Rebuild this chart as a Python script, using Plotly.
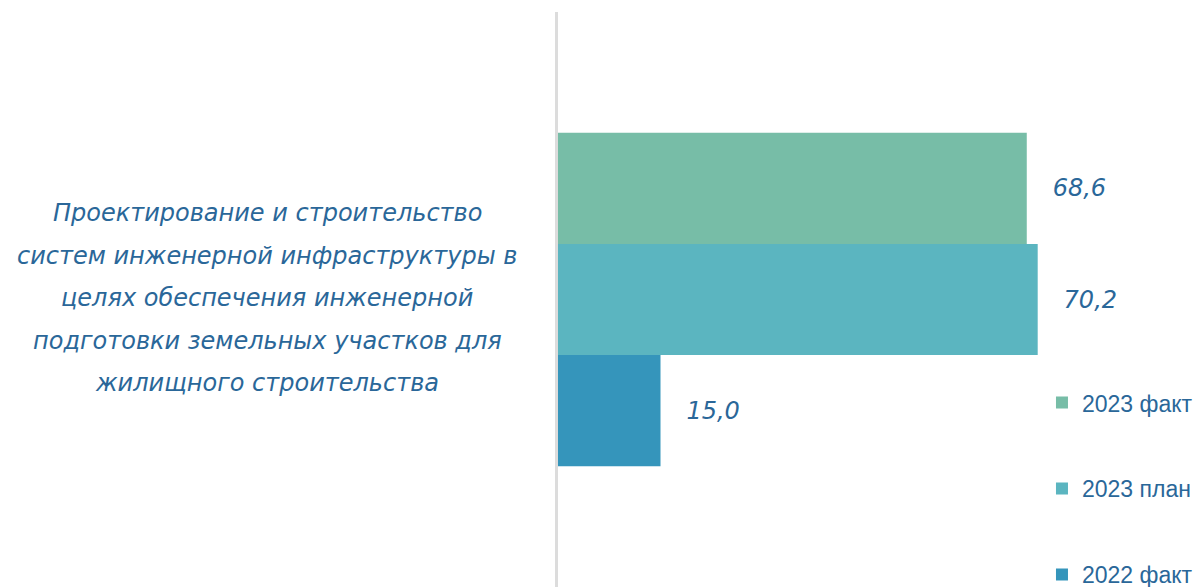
import plotly.graph_objects as go

category_lines = [
    "Проектирование и строительство",
    "систем инженерной инфраструктуры в",
    "целях обеспечения инженерной",
    "подготовки земельных участков для",
    "жилищного строительства",
]
category = " ".join(category_lines)

series_names = ["2022 факт", "2023 план", "2023 факт"]
series_values = [15.0, 70.2, 68.6]
series_colors = ["#3595BB", "#5BB5C0", "#77BDA7"]
legend_ranks = [3, 2, 1]

text_color = "#2A6799"
hand_font = "DejaVu Sans"

fig = go.Figure()
for name, val, col, rank in zip(series_names, series_values, series_colors, legend_ranks):
    fig.add_trace(go.Bar(
        y=[category], x=[val], name=name, orientation="h",
        marker=dict(color=col, line=dict(width=0)),
        text=["\u00a0\u00a0\u00a0" + f"{val:.1f}".replace(".", ",")],
        textposition="outside", cliponaxis=False,
        textfont=dict(family=hand_font, size=24, color=text_color, style="italic"),
        legendgroup=name, legendrank=rank,
    ))

annotations = []
n = len(category_lines)
for i, line in enumerate(category_lines):
    annotations.append(dict(
        text=line, xref="paper", x=0, xanchor="center", xshift=-291,
        yref="y", y=category, yanchor="middle", yshift=((n - 1) / 2 - i) * 42.5 + 1.5,
        showarrow=False,
        font=dict(family=hand_font, size=24, color=text_color, style="italic"),
    ))

fig.update_layout(
    width=1198, height=587,
    margin=dict(l=558, r=148, t=12, b=0, autoexpand=False),
    paper_bgcolor="white", plot_bgcolor="white",
    barmode="group", bargap=0.42, bargroupgap=0,
    showlegend=True,
    legend=dict(
        traceorder="grouped", tracegroupgap=53,
        x=0.9837, xanchor="left", xref="paper",
        y=0.358, yanchor="top",
        font=dict(family="Liberation Sans, Arial", size=23, color=text_color),
        bgcolor="rgba(0,0,0,0)",
    ),
    xaxis=dict(range=[0, 72], visible=False, showgrid=False, zeroline=False),
    yaxis=dict(showticklabels=False, showline=True, linecolor="#DCDCDC", linewidth=2.5,
               showgrid=False, zeroline=False, ticks=""),
    annotations=annotations,
)

fig.write_html(
    "out.html",
    config={"displayModeBar": False},
    post_script="document.body.style.margin='0px';document.body.style.overflow='hidden';",
)
